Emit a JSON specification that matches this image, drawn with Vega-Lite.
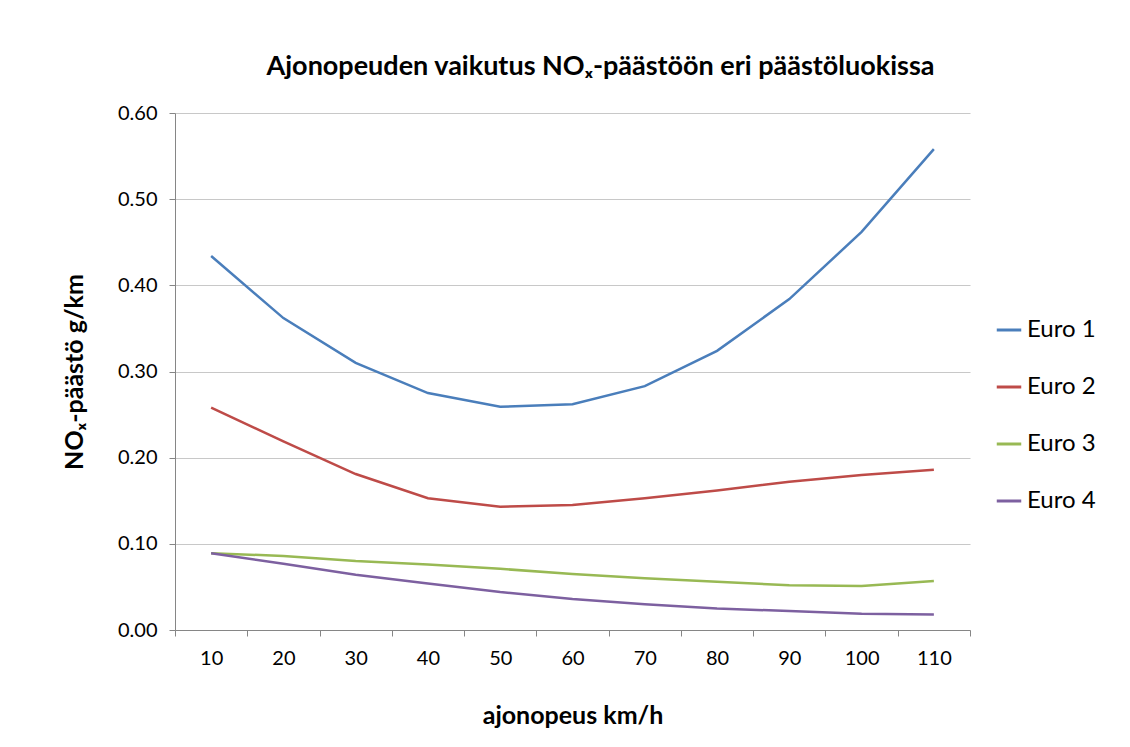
{
  "$schema": "https://vega.github.io/schema/vega-lite/v6.json",
  "width": 795,
  "height": 517,
  "autosize": "none",
  "padding": {"left": 175, "top": 113, "right": 160, "bottom": 117},
  "background": "white",
  "title": {
    "text": "Ajonopeuden vaikutus NOₓ-päästöön eri päästöluokissa",
    "font": "Lato",
    "fontSize": 27,
    "fontWeight": "bold",
    "color": "#000000",
    "anchor": "middle",
    "dx": 28,
    "offset": 22
  },
  "config": {
    "view": {"stroke": null},
    "font": "Lato"
  },
  "data": {
    "values": [
      {"speed": 10, "series": "Euro 1", "nox": 0.434},
      {"speed": 20, "series": "Euro 1", "nox": 0.362},
      {"speed": 30, "series": "Euro 1", "nox": 0.310},
      {"speed": 40, "series": "Euro 1", "nox": 0.275},
      {"speed": 50, "series": "Euro 1", "nox": 0.259},
      {"speed": 60, "series": "Euro 1", "nox": 0.262},
      {"speed": 70, "series": "Euro 1", "nox": 0.283},
      {"speed": 80, "series": "Euro 1", "nox": 0.324},
      {"speed": 90, "series": "Euro 1", "nox": 0.384},
      {"speed": 100, "series": "Euro 1", "nox": 0.462},
      {"speed": 110, "series": "Euro 1", "nox": 0.558},
      {"speed": 10, "series": "Euro 2", "nox": 0.258},
      {"speed": 20, "series": "Euro 2", "nox": 0.219},
      {"speed": 30, "series": "Euro 2", "nox": 0.181},
      {"speed": 40, "series": "Euro 2", "nox": 0.153},
      {"speed": 50, "series": "Euro 2", "nox": 0.143},
      {"speed": 60, "series": "Euro 2", "nox": 0.145},
      {"speed": 70, "series": "Euro 2", "nox": 0.153},
      {"speed": 80, "series": "Euro 2", "nox": 0.162},
      {"speed": 90, "series": "Euro 2", "nox": 0.172},
      {"speed": 100, "series": "Euro 2", "nox": 0.180},
      {"speed": 110, "series": "Euro 2", "nox": 0.186},
      {"speed": 10, "series": "Euro 3", "nox": 0.089},
      {"speed": 20, "series": "Euro 3", "nox": 0.086},
      {"speed": 30, "series": "Euro 3", "nox": 0.080},
      {"speed": 40, "series": "Euro 3", "nox": 0.076},
      {"speed": 50, "series": "Euro 3", "nox": 0.071},
      {"speed": 60, "series": "Euro 3", "nox": 0.065},
      {"speed": 70, "series": "Euro 3", "nox": 0.060},
      {"speed": 80, "series": "Euro 3", "nox": 0.056},
      {"speed": 90, "series": "Euro 3", "nox": 0.052},
      {"speed": 100, "series": "Euro 3", "nox": 0.051},
      {"speed": 110, "series": "Euro 3", "nox": 0.057},
      {"speed": 10, "series": "Euro 4", "nox": 0.089},
      {"speed": 20, "series": "Euro 4", "nox": 0.077},
      {"speed": 30, "series": "Euro 4", "nox": 0.064},
      {"speed": 40, "series": "Euro 4", "nox": 0.054},
      {"speed": 50, "series": "Euro 4", "nox": 0.044},
      {"speed": 60, "series": "Euro 4", "nox": 0.036},
      {"speed": 70, "series": "Euro 4", "nox": 0.030},
      {"speed": 80, "series": "Euro 4", "nox": 0.025},
      {"speed": 90, "series": "Euro 4", "nox": 0.022},
      {"speed": 100, "series": "Euro 4", "nox": 0.019},
      {"speed": 110, "series": "Euro 4", "nox": 0.018}
    ]
  },
  "mark": {"type": "line", "strokeWidth": 2.5},
  "encoding": {
    "x": {
      "field": "speed",
      "type": "ordinal",
      "scale": {"type": "band", "paddingInner": 0, "paddingOuter": 0},
      "axis": {
        "title": "ajonopeus km/h",
        "titleFont": "Lato",
        "titleFontSize": 25,
        "titleFontWeight": "bold",
        "titleColor": "#000000",
        "titlePadding": 35,
        "labelAngle": 0,
        "labelFont": "Lato",
        "labelFontSize": 20,
        "labelColor": "#000000",
        "labelPadding": 12,
        "tickBand": "extent",
        "tickSize": 6,
        "tickColor": "#868686",
        "domainColor": "#868686",
        "grid": false
      }
    },
    "y": {
      "field": "nox",
      "type": "quantitative",
      "scale": {"domain": [0, 0.6], "nice": false},
      "axis": {
        "title": "NOₓ-päästö g/km",
        "titleFont": "Lato",
        "titleFontSize": 25,
        "titleFontWeight": "bold",
        "titleColor": "#000000",
        "titlePadding": 30,
        "values": [0, 0.1, 0.2, 0.3, 0.4, 0.5, 0.6],
        "format": ".2f",
        "labelFont": "Lato",
        "labelFontSize": 20,
        "labelColor": "#000000",
        "labelPadding": 12,
        "tickSize": 6,
        "tickColor": "#868686",
        "domainColor": "#868686",
        "grid": true,
        "gridColor": "#C8C8C8",
        "gridWidth": 1.2
      }
    },
    "color": {
      "field": "series",
      "type": "nominal",
      "scale": {
        "domain": ["Euro 1", "Euro 2", "Euro 3", "Euro 4"],
        "range": ["#4A7EBB", "#BE4B48", "#98B954", "#7D60A0"]
      },
      "legend": {
        "title": null,
        "orient": "none",
        "legendX": 820,
        "legendY": 203,
        "symbolType": "stroke",
        "symbolSize": 600,
        "symbolStrokeWidth": 3,
        "labelFont": "Lato",
        "labelFontSize": 24,
        "labelColor": "#000000",
        "labelOffset": 4,
        "rowPadding": 31
      }
    }
  }
}
